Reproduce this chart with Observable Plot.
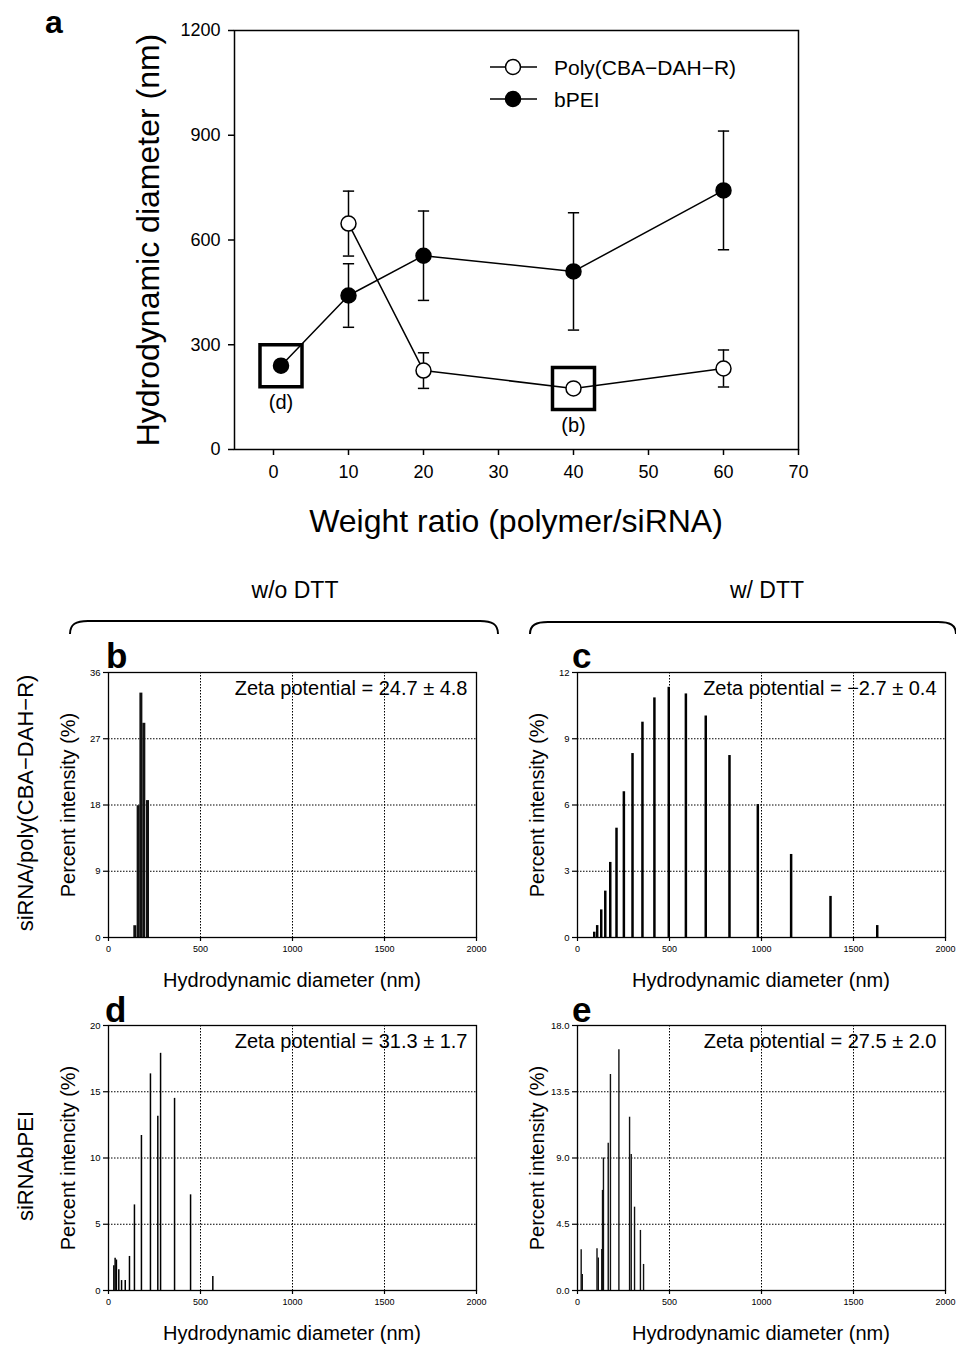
<!DOCTYPE html>
<html><head><meta charset="utf-8">
<script src="https://cdn.jsdelivr.net/npm/d3@7"></script>
<script src="https://cdn.jsdelivr.net/npm/@observablehq/plot@0.6"></script>
<style>
body{margin:0;background:#fff;}
#root{position:relative;width:956px;height:1345px;background:#fff;overflow:hidden;font-family:"Liberation Sans",Arial,sans-serif;color:#000}
#overlay{position:absolute;left:0;top:0;pointer-events:none}
</style></head><body><div id="root"></div>
<script>
// ---------- Panel a data ----------
const ratioPoly = [10, 20, 40, 60];
const meanPoly  = [647, 226, 175, 232];
const errPoly   = [93, 51, 0, 53];
const ratioPEI  = [1, 10, 20, 40, 60];
const meanPEI   = [240, 441, 555, 510, 742];
const errPEI    = [0, 91, 128, 168, 170];
const aXTicks = [0, 10, 20, 30, 40, 50, 60, 70];
const aYTicks = [0, 300, 600, 900, 1200];
const markRatio = [1, 40];
const markValue = [240, 175];
const markLabel = ["(d)", "(b)"];
const seriesNames = ["Poly(CBA\u2212DAH\u2212R)", "bPEI"];

// ---------- Size distribution panels ----------
const lowerXTicks = [0, 500, 1000, 1500, 2000];
const bSize = [143, 161, 176, 192, 212];
const bPct  = [1.6, 17.9, 33.2, 29.1, 18.6];
const cSize = [91, 107, 129, 151, 178, 212, 252, 299, 353, 418, 496, 589, 697, 826, 980, 1161, 1375, 1629];
const cPct  = [0.24, 0.54, 1.25, 2.1, 3.4, 4.95, 6.6, 8.33, 9.75, 10.85, 11.33, 11.03, 10.03, 8.24, 6.02, 3.76, 1.86, 0.54];
const dSize = [29, 36, 43, 56, 71, 91, 114, 141, 179, 228, 268, 283, 359, 446, 567];
const dPct  = [1.87, 2.44, 2.3, 1.56, 0.75, 0.75, 2.57, 6.46, 11.7, 16.35, 13.15, 17.9, 14.5, 7.22, 1.06];
const eSize = [20, 26, 106, 113, 132, 136, 141, 167, 179, 225, 283, 292, 310, 342, 359];
const ePct  = [2.76, 1.09, 2.83, 2.2, 2.78, 6.8, 9.0, 10.0, 14.67, 16.35, 11.77, 9.24, 5.66, 4.08, 1.77];
const bTicks = [0, 9, 18, 27, 36];
const cTicks = [0, 3, 6, 9, 12];
const dTicks = [0, 5, 10, 15, 20];
const eTicks = [0, 4.5, 9, 13.5, 18];
const zetaB = "Zeta potential = 24.7 \u00b1 4.8";
const zetaC = "Zeta potential = \u22122.7 \u00b1 0.4";
const zetaD = "Zeta potential = 31.3 \u00b1 1.7";
const zetaE = "Zeta potential = 27.5 \u00b1 2.0";

const FONT = '"Liberation Sans", Arial, Helvetica, sans-serif';
const root = document.getElementById("root");
const intFmt = d3.format("d");
const oneFmt = d3.format(".1f");

// ---------- Panel a ----------
const poly = ratioPoly.map((x, i) => ({x, m: meanPoly[i], e: errPoly[i]}));
const pei = ratioPEI.map((x, i) => ({x, m: meanPEI[i], e: errPEI[i]}));
const errs = [...poly, ...pei].filter(d => d.e > 0);
const marks = markRatio.map((x, i) => ({x, y: markValue[i], label: markLabel[i]}));
const capHalf = 0.75;

const chartA = Plot.plot({
  width: 956, height: 545,
  marginLeft: 234, marginRight: 158, marginTop: 30, marginBottom: 96,
  x: {domain: [-5.2, 70], axis: null},
  y: {domain: [0, 1200], axis: null},
  style: {fontFamily: FONT, fontSize: "18px", color: "#000", background: "transparent", overflow: "visible"},
  marks: [
    Plot.ruleX(errs, {x: "x", y1: d => d.m - d.e, y2: d => d.m + d.e, stroke: "#000", strokeWidth: 1.5}),
    Plot.link(errs, {x1: d => d.x - capHalf, x2: d => d.x + capHalf, y1: d => d.m + d.e, y2: d => d.m + d.e, stroke: "#000", strokeWidth: 1.5}),
    Plot.link(errs, {x1: d => d.x - capHalf, x2: d => d.x + capHalf, y1: d => d.m - d.e, y2: d => d.m - d.e, stroke: "#000", strokeWidth: 1.5}),
    Plot.line(poly, {x: "x", y: "m", stroke: "#000", strokeWidth: 1.5}),
    Plot.line(pei, {x: "x", y: "m", stroke: "#000", strokeWidth: 1.5}),
    Plot.dot(marks, {x: "x", y: "y", symbol: "square", r: 23.7, fill: "none", stroke: "#000", strokeWidth: 3.5}),
    Plot.dot(poly, {x: "x", y: "m", r: 7.5, fill: "#fff", stroke: "#000", strokeWidth: 1.5}),
    Plot.dot(pei, {x: "x", y: "m", r: 7.5, fill: "#000", stroke: "#000", strokeWidth: 1.5}),
    Plot.text(marks, {x: "x", y: "y", text: "label", dy: 37, fontSize: 20, fill: "#000"}),
    Plot.frame({stroke: "#000", strokeWidth: 1.5}),
    Plot.axisX({ticks: aXTicks, tickSize: 6, tickPadding: 10, label: null, fontSize: 18, strokeWidth: 1.5, tickFormat: intFmt}),
    Plot.axisY({ticks: aYTicks, tickSize: 6, tickPadding: 8, label: null, fontSize: 18, strokeWidth: 1.5, tickFormat: intFmt})
  ]
});
chartA.style.position = "absolute";
chartA.style.left = "0px";
chartA.style.top = "0px";
root.appendChild(chartA);

// ---------- Lower panels ----------
function panel(p) {
  const data = p.size.map((x, i) => ({x, y: p.pct[i]}));
  const W = 368, H = 265, ml = 60, mr = 11, mt = 10, mb = 25;
  const chart = Plot.plot({
    width: W + ml + mr, height: H + mt + mb,
    marginLeft: ml, marginRight: mr, marginTop: mt, marginBottom: mb,
    x: {domain: [0, 2000], axis: null},
    y: {domain: [0, p.ticks[p.ticks.length - 1]], axis: null},
    style: {fontFamily: FONT, fontSize: "9px", color: "#000", background: "transparent", overflow: "visible"},
    marks: [
      Plot.ruleY(p.ticks.slice(1, -1), {stroke: "#000", strokeWidth: 1, strokeDasharray: "1.5,1.5"}),
      Plot.ruleX(lowerXTicks.slice(1, -1), {stroke: "#000", strokeWidth: 1, strokeDasharray: "1.5,1.5"}),
      Plot.ruleX(data, {x: "x", y1: 0, y2: "y", stroke: p.color, strokeWidth: p.sw}),
      Plot.text([p.zeta], {text: d => d, frameAnchor: "top-right", dx: -9, dy: 8, lineAnchor: "top", textAnchor: "end", fontSize: 20, fill: "#000"}),
      Plot.frame({stroke: "#000", strokeWidth: 1.3}),
      Plot.axisX({ticks: lowerXTicks, tickSize: 4, tickPadding: 4, label: null, fontSize: 9, strokeWidth: 1.2, tickFormat: intFmt}),
      Plot.axisY({ticks: p.ticks, tickSize: 5, tickPadding: 3, label: null, fontSize: 9.5, strokeWidth: 1.2, tickFormat: p.fmt})
    ]
  });
  chart.style.position = "absolute";
  chart.style.left = (p.left - ml) + "px";
  chart.style.top = (p.top - mt) + "px";
  root.appendChild(chart);
}
panel({size: bSize, pct: bPct, ticks: bTicks, zeta: zetaB, left: 108, top: 672, sw: 3, color: "#111", fmt: intFmt});
panel({size: cSize, pct: cPct, ticks: cTicks, zeta: zetaC, left: 577, top: 672, sw: 2.5, color: "#000", fmt: intFmt});
panel({size: dSize, pct: dPct, ticks: dTicks, zeta: zetaD, left: 108, top: 1025, sw: 1.5, color: "#000", fmt: intFmt});
panel({size: eSize, pct: ePct, ticks: eTicks, zeta: zetaE, left: 577, top: 1025, sw: 1.4, color: "#111", fmt: oneFmt});

// ---------- Overlay text / decorations ----------
const NS = "http://www.w3.org/2000/svg";
const ov = document.createElementNS(NS, "svg");
ov.setAttribute("id", "overlay");
ov.setAttribute("width", 956); ov.setAttribute("height", 1345);
ov.setAttribute("font-family", FONT);
root.appendChild(ov);
function txt(s, x, y, size, opts = {}) {
  const t = document.createElementNS(NS, "text");
  t.textContent = s;
  t.setAttribute("x", x); t.setAttribute("y", y);
  t.setAttribute("font-size", size);
  t.setAttribute("fill", "#000");
  t.setAttribute("text-anchor", opts.anchor || "middle");
  if (opts.central) t.setAttribute("dominant-baseline", "central");
  if (opts.bold) t.setAttribute("font-weight", "bold");
  if (opts.rot) t.setAttribute("transform", `rotate(-90 ${x} ${y})`);
  ov.appendChild(t);
  return t;
}
function path(d, sw) {
  const p = document.createElementNS(NS, "path");
  p.setAttribute("d", d); p.setAttribute("fill", "none");
  p.setAttribute("stroke", "#000"); p.setAttribute("stroke-width", sw);
  ov.appendChild(p);
}
// panel letters
txt("a", 45, 33, 32, {anchor: "start", bold: true});
txt("b", 106, 668, 35, {anchor: "start", bold: true});
txt("c", 572, 668, 35, {anchor: "start", bold: true});
txt("d", 105, 1022, 35, {anchor: "start", bold: true});
txt("e", 572, 1022, 35, {anchor: "start", bold: true});
// panel a titles
txt("Hydrodynamic diameter (nm)", 148, 240, 32, {central: true, rot: true});
txt("Weight ratio (polymer/siRNA)", 516, 521, 32, {central: true});
// legend
seriesNames.forEach((name, i) => {
  const y = 67 + i * 32;
  path(`M490,${y} L537,${y}`, 1.5);
  const c = document.createElementNS(NS, "circle");
  c.setAttribute("cx", 513); c.setAttribute("cy", y); c.setAttribute("r", 7.5);
  c.setAttribute("fill", i === 0 ? "#fff" : "#000");
  c.setAttribute("stroke", "#000"); c.setAttribute("stroke-width", 1.5);
  ov.appendChild(c);
  txt(name, 554, y, 21, {anchor: "start", central: true});
});
// section headers and braces
txt("w/o DTT", 295, 590, 23, {central: true});
txt("w/ DTT", 767, 590, 23, {central: true});
path("M70,634 C70,624 76,621 88,621 L480,621 C492,621 498,624 498,634", 2);
path("M530,634 C530,625 536,622 548,622 L938,622 C950,622 956,625 956,634", 2);
// row labels
txt("siRNA/poly(CBA\u2212DAH\u2212R)", 25, 803, 22, {central: true, rot: true});
txt("siRNAbPEI", 25, 1166, 22, {central: true, rot: true});
// axis titles of lower panels
txt("Percent intensity (%)", 68, 805, 20, {central: true, rot: true});
txt("Percent intensity (%)", 537, 805, 20, {central: true, rot: true});
txt("Percent intencity (%)", 68, 1158, 20, {central: true, rot: true});
txt("Percent intensity (%)", 537, 1158, 20, {central: true, rot: true});
txt("Hydrodynamic diameter (nm)", 292, 980, 20, {central: true});
txt("Hydrodynamic diameter (nm)", 761, 980, 20, {central: true});
txt("Hydrodynamic diameter (nm)", 292, 1333, 20, {central: true});
txt("Hydrodynamic diameter (nm)", 761, 1333, 20, {central: true});
</script></body></html>
